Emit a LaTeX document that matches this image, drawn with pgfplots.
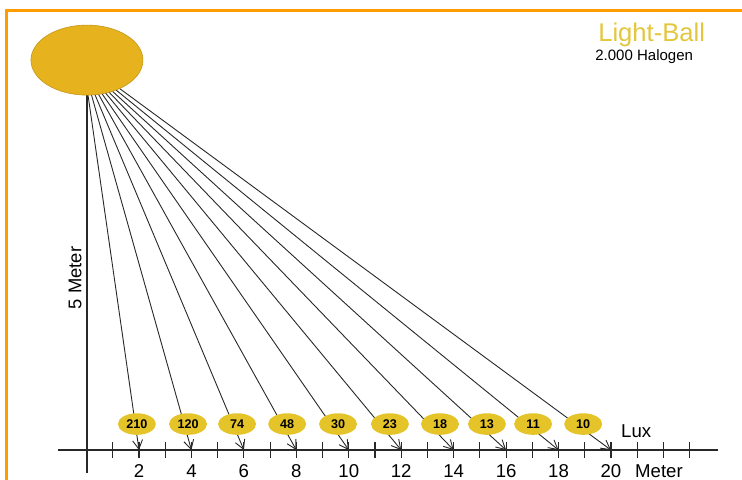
\documentclass[border=0pt]{standalone}
\usepackage{pgfplots}
\pgfplotsset{compat=1.18}
\usepackage{pgfplotstable}
\usepackage{fontspec}
\setmainfont{Liberation Sans}
\usetikzlibrary{arrows.meta,shapes.geometric}
\definecolor{ballgold}{RGB}{230,178,30}
\definecolor{luxgold}{RGB}{229,196,42}
\definecolor{titlegold}{RGB}{228,198,60}
\definecolor{frameorange}{RGB}{255,157,0}
\definecolor{ink}{RGB}{40,40,40}

% rays from the light ball to the floor (meters)
\pgfplotstableread{
sx    sy    tx
0.055 13.54 2
0.188 13.54 4
0.322 13.55 6
0.455 13.57 8
0.589 13.59 10
0.722 13.62 12
0.856 13.65 14
0.989 13.68 16
1.123 13.73 18
1.256 13.79 20
}\rays

% illuminance (lux) labels
\pgfplotstableread{
x     y    lux
1.92  0.99 210
3.87  0.99 120
5.74  0.99 74
7.65  0.99 48
9.59  0.99 30
11.57 0.99 23
13.48 0.99 18
15.27 0.99 13
17.03 0.99 11
18.94 0.99 10
}\luxdata

\begin{document}
\begin{tikzpicture}
\begin{axis}[
  scale only axis, width=371pt, height=239.5pt,
  xmin=-3.301, xmax=24.997, ymin=-1.106, ymax=17.162,
  axis lines=none, clip=false,
]
% frame
\draw[frameorange, line width=1.5pt] (axis cs:-3.072,-1.2) -- (axis cs:-3.072,16.78) -- (axis cs:25.1,16.78);
% axes
\draw[ink, line width=0.9pt] (axis cs:-1.089,0) -- (axis cs:24.08,0);
\draw[ink, line width=0.9pt] (axis cs:0.015,-0.877) -- (axis cs:0.015,13.6);
\pgfplotsinvokeforeach{1,...,23}{\draw[ink, line width=0.55pt] (axis cs:#1,-0.3) -- (axis cs:#1,0.3);}
% rays
\addplot[ink, line width=0.45pt, -{Straight Barb[length=4.5pt,width=5pt]},
  quiver={u=\thisrow{tx}-\thisrow{sx}, v=-\thisrow{sy}}]
  table[x=sx, y=sy] {\rays};
% light ball
\addplot[only marks, mark=*, mark size=17.5pt,
  mark options={xscale=1.6, fill=ballgold, draw=ballgold!85!black, line width=0.3pt}]
  coordinates {(0.015,14.87)};
% lux labels
\addplot[draw=none, mark=none, nodes near coords, point meta=explicit symbolic,
  every node near coord/.style={ellipse, fill=luxgold, inner sep=0pt,
    minimum width=19pt, minimum height=10.8pt, anchor=center,
    font=\fontsize{6.3}{7}\selectfont\bfseries, text=black}]
  table[x=x, y=y, meta=lux] {\luxdata};
% tick labels
\pgfplotsinvokeforeach{2,4,...,20}{\node[inner sep=0pt, font=\fontsize{9.3}{10}\selectfont] at (axis cs:#1,-0.80) {#1};}
\node[inner sep=0pt, font=\fontsize{9.3}{10}\selectfont] at (axis cs:21.83,-0.80) {Meter};
\node[inner sep=0pt, font=\fontsize{9.3}{10}\selectfont] at (axis cs:20.96,0.725) {Lux};
\node[inner sep=0pt, rotate=90, font=\fontsize{9.2}{10}\selectfont] at (axis cs:-0.44,6.56) {5 Meter};
\node[inner sep=0pt, text=titlegold, font=\fontsize{12.8}{14}\selectfont] at (axis cs:21.55,15.83) {Light-Ball};
\node[inner sep=0pt, anchor=west, font=\fontsize{7.5}{9}\selectfont] at (axis cs:19.39,14.99) {2.000 Halogen};
\end{axis}
\pgfresetboundingbox
\useasboundingbox (current axis.south west) rectangle (current axis.north east);
\end{tikzpicture}
\end{document}
